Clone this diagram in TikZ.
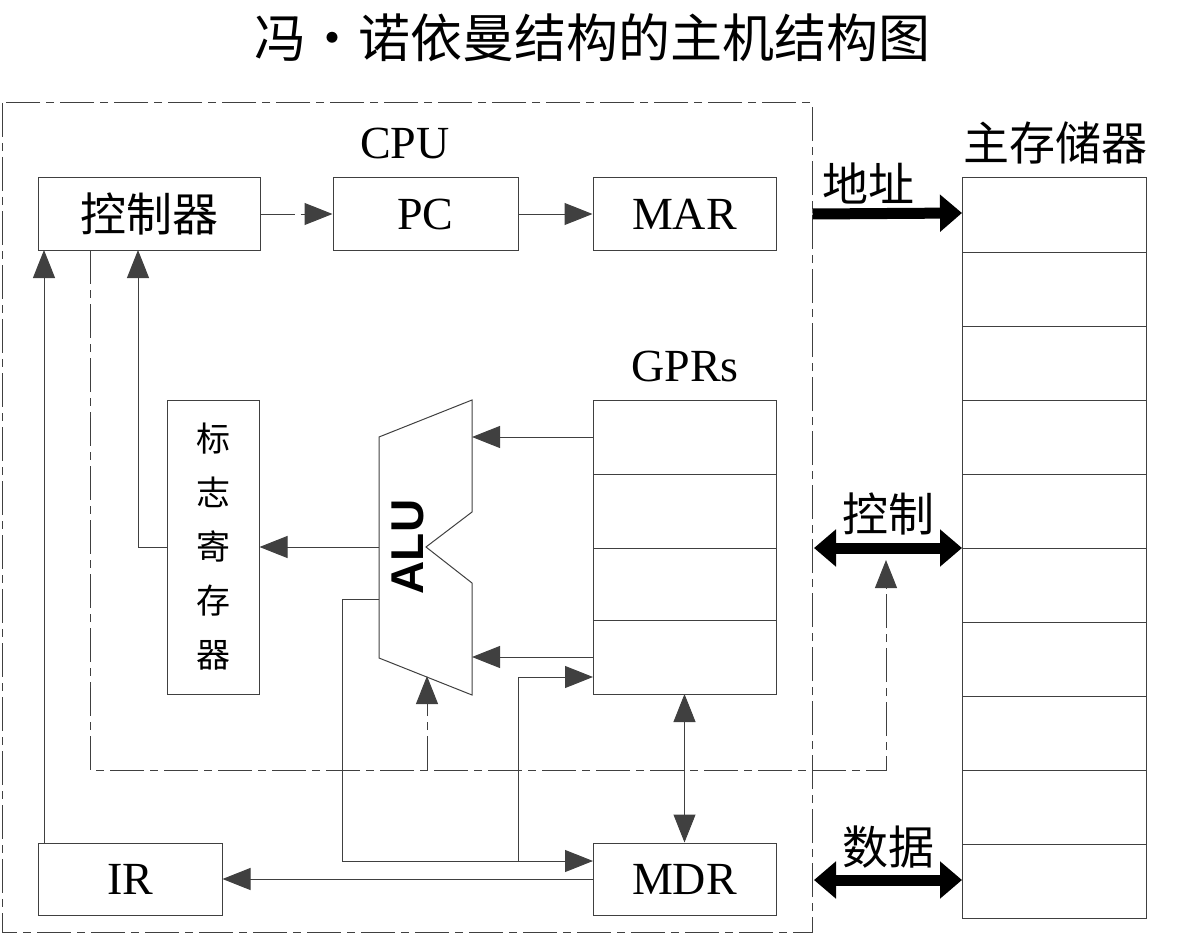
\documentclass[tikz,border=0pt]{standalone}
\usepackage{fontspec}
\setmainfont{Liberation Serif}
\newfontfamily\cjk{Noto Sans CJK SC}
\newfontfamily\alufont{Liberation Sans}
\usetikzlibrary{arrows.meta}

\begin{document}
\begin{tikzpicture}
[x=1pt, y=-1pt, every node/.style={inner sep=0pt},
 box/.style={draw=black!75, line width=1pt},
 lbl/.style={font=\fontsize{46}{46}\selectfont},
 clbl/.style={font=\cjk\fontsize{46}{46}\selectfont},
 ln/.style={draw=black!75, line width=1pt},
 dd/.style={ln, dash pattern=on 34pt off 6pt on 8pt off 6pt},
 ar/.style={-{Triangle[length=28pt, width=22pt]}},
 bus/.style={line width=11pt, {Triangle[length=22pt, width=36pt]}-{Triangle[length=22pt, width=36pt]}},
 bus1/.style={line width=11pt, -{Triangle[length=22pt, width=36pt]}}]
\useasboundingbox (0,0) rectangle (1184,947);
\node (title) [font=\cjk\fontsize{52}{52}\selectfont] at (592,38) {冯・诺依曼结构的主机结构图};
% CPU frame
\draw [dd] (2,103) rectangle (812,932);
\node (cpu) [lbl] at (405,143) {CPU};
% top row
\node (ctrl) [box, minimum width=222pt, minimum height=72pt, clbl] at (149,214) {控制器};
\node (pc) [box, minimum width=185pt, minimum height=72pt, lbl] at (425.5,214) {PC};
\node (mar) [box, minimum width=183pt, minimum height=72pt, lbl] at (684.5,214) {MAR};
\draw [dd, ar] (ctrl) -- (pc);
\draw [ln, ar] (pc) -- (mar);
% memory
\node (mem) [clbl] at (1055,143) {主存储器};
\draw [box] (962,178) rectangle (1146,918);
\foreach \y in {252,326,400,474,548,622,696,770,844}
  \draw [ln] (962,\y) -- (1146,\y);
\coordinate (memA) at (962,213);
\coordinate (memC) at (962,548);
\coordinate (memD) at (962,880);
\coordinate (busC) at (814,548);
\coordinate (busD) at (814,880);
\draw [bus1] (mar.east) ++(36,0) coordinate (busA) -- (memA);
\node (addr) [clbl] at (868,183) {地址};
\draw [bus] (busC) -- (memC);
\node (ctl) [clbl] at (888,514) {控制};
\draw [bus] (busD) -- (memD);
\node (data) [clbl] at (888,847) {数据};
% GPRs
\node (gprl) [lbl] at (685,366) {GPRs};
\node (gpr) [box, minimum width=183pt, minimum height=294pt] at (684.5,547) {};
\foreach \y in {474,548,620}
  \draw [ln] (593,\y) -- (776,\y);
% flag register
\node (flag) [box, minimum width=92pt, minimum height=294pt, align=center, font=\cjk\fontsize{34}{54}\selectfont] at (213,547) {标\\志\\寄\\存\\器};
% ALU
\draw [ln] (379,437) coordinate (aluL1) -- (472,400) -- (472,512) -- (426,547) -- (472,583) -- (472,695) -- (379,658) -- cycle;
\node (alu) [rotate=90, font=\alufont\bfseries\fontsize{46}{46}\selectfont] at (408,547) {ALU};
\coordinate (aluL) at (379,547);
\coordinate (aluB) at (427,676);
\draw [ln, ar] (593,437) -- (472,437);
\draw [ln, ar] (593,657) -- (472,657);
\draw [ln, ar] (aluL) -- (flag.east);
\draw [ln, ar] (flag.west) -- (138,547) -- (138,250);
% lower row
\node (ir) [box, minimum width=184pt, minimum height=72pt, lbl] at (130,879) {IR};
\node (mdr) [box, minimum width=183pt, minimum height=72pt, lbl] at (684.5,879) {MDR};
\draw [ln, ar] (mdr.west) -- (ir.east);
\draw [ln, ar] (44,843) -- (44,250);
\draw [ln, {Triangle[length=28pt, width=22pt]}-{Triangle[length=28pt, width=22pt]}] (684.5,694) -- (mdr.north);
\draw [ln, ar] (379,599) -- (342,599) -- (342,861) -- (593,861);
\draw [ln, ar] (518,861) -- (518,677) -- (593,677);
% control lines
\draw [dd, ar] (90,250) -- (90,770) -- (886,770) -- (886,560);
\draw [dd, ar] (427,770) -- (aluB);
\end{tikzpicture}
\end{document}
